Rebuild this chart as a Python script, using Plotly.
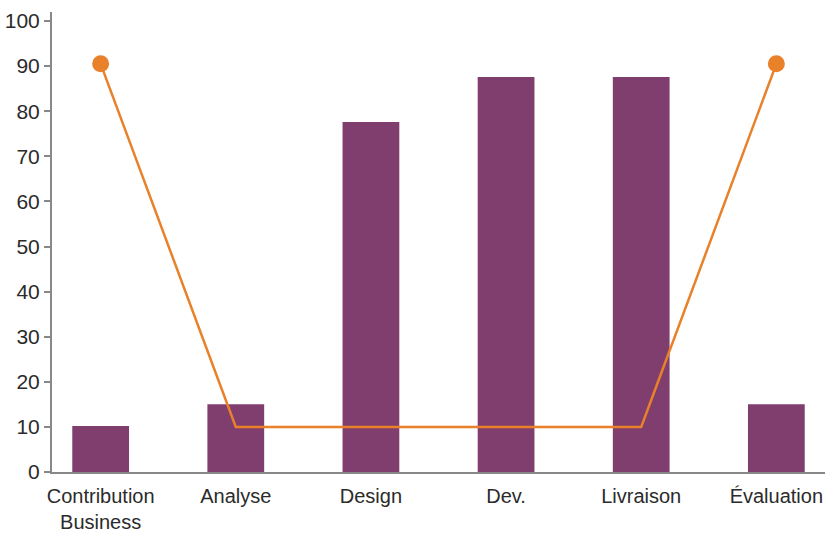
import plotly.graph_objects as go

categories = ["Contribution<br>Business", "Analyse", "Design", "Dev.", "Livraison", "Évaluation"]
bar_values = [10.2, 15, 77.6, 87.6, 87.6, 15]
line_values = [90.5, 10, 10, 10, 10, 90.5]
marker_sizes = [17, 0, 0, 0, 0, 17]

FONT = "Liberation Sans, Arial, sans-serif"

fig = go.Figure()
fig.add_trace(go.Bar(
    x=categories, y=bar_values,
    marker=dict(color="#7F3E6E", line=dict(width=0)),
    width=0.42,
    showlegend=False,
))
fig.add_trace(go.Scatter(
    x=categories, y=line_values,
    mode="lines+markers",
    line=dict(color="#E8812A", width=2.5),
    marker=dict(color="#E8812A", size=marker_sizes, opacity=1, line=dict(width=0)),
    showlegend=False,
))
fig.update_layout(
    width=825, height=548,
    margin=dict(l=52, r=0, t=12, b=76),
    paper_bgcolor="white", plot_bgcolor="white",
    font=dict(family=FONT, size=20, color="#2b2b2b"),
    xaxis=dict(
        range=[-0.36, 5.36],
        showline=True, linecolor="#888888", linewidth=2,
        ticks="outside", ticklen=5, tickcolor="rgba(0,0,0,0)",
        showgrid=False, zeroline=False,
        tickfont=dict(size=20), automargin=False,
    ),
    yaxis=dict(
        range=[0, 102],
        tickvals=list(range(0, 101, 10)),
        showline=True, linecolor="#888888", linewidth=2,
        ticks="outside", ticklen=6, tickcolor="#888888", tickwidth=1.5,
        showgrid=False, zeroline=False,
        tickfont=dict(size=21), automargin=False,
    ),
)
# remove the default 8px page margin so the figure fills the window exactly
fig.write_html(
    "out.html",
    config={"displayModeBar": False},
    post_script="document.body.style.margin='0';document.body.style.overflow='hidden';",
)
